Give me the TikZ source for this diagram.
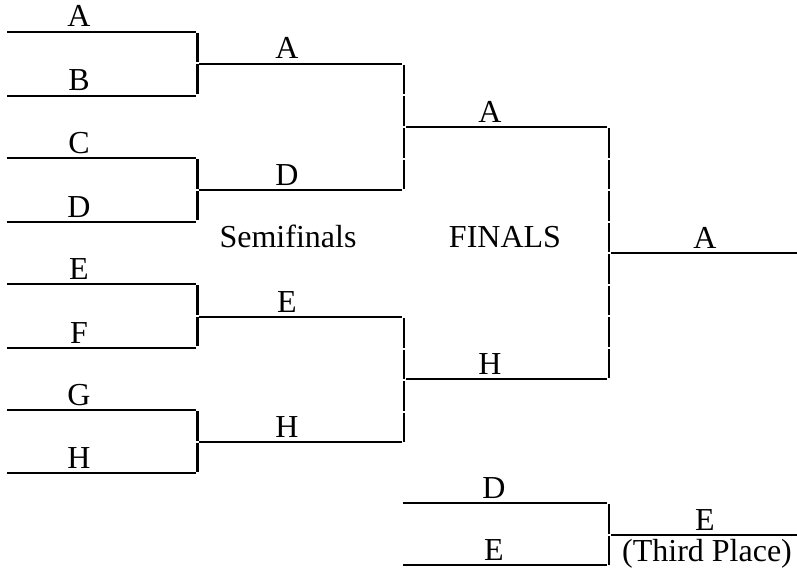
\documentclass[tikz,border=0pt]{standalone}
\usepackage{fontspec}
\setmainfont{Liberation Serif}
\begin{document}
\begin{tikzpicture}[x=1pt,y=-1pt,
  hline/.style={line width=2.5pt},
  vline/.style={line width=2.5pt, dash pattern=on 29.5pt off 2pt, dash phase=30.5pt},
  lbl/.style={anchor=base, font=\fontsize{32}{36}\selectfont, inner sep=0pt}]
\useasboundingbox (0,0) rectangle (797,567);
% round 1
\foreach \y/\n/\t in {32/r1a/A,96/r1b/B,158/r1c/C,222/r1d/D,284/r1e/E,348/r1f/F,410/r1g/G,473/r1h/H}{
  \coordinate (\n-l) at (7,\y);
  \coordinate (\n-r) at (196,\y);
  \draw[hline] (\n-l) -- (\n-r);
  \node[lbl] (\n-t) at (79,\y-5) {\t};
}
\coordinate (v1a-t) at (197.5,32);  \coordinate (v1a-b) at (197.5,96);
\coordinate (v1b-t) at (197.5,158); \coordinate (v1b-b) at (197.5,222);
\coordinate (v1c-t) at (197.5,284); \coordinate (v1c-b) at (197.5,348);
\coordinate (v1d-t) at (197.5,410); \coordinate (v1d-b) at (197.5,473);
\foreach \v in {v1a,v1b,v1c,v1d}{\draw[vline] (\v-t) -- (\v-b);}
% round 2
\foreach \y/\n/\t in {64/r2a/A,190/r2b/D,317/r2c/E,442/r2d/H}{
  \coordinate (\n-l) at (199,\y);
  \coordinate (\n-r) at (402,\y);
  \draw[hline] (\n-l) -- (\n-r);
  \node[lbl] (\n-t) at (287,\y-5) {\t};
}
\coordinate (v2a-t) at (404,64);  \coordinate (v2a-b) at (404,190);
\coordinate (v2b-t) at (404,317); \coordinate (v2b-b) at (404,442);
\foreach \v in {v2a,v2b}{\draw[vline] (\v-t) -- (\v-b);}
% round 3
\foreach \y/\n/\t in {127/r3a/A,379/r3b/H}{
  \coordinate (\n-l) at (406,\y);
  \coordinate (\n-r) at (607,\y);
  \draw[hline] (\n-l) -- (\n-r);
  \node[lbl] (\n-t) at (490,\y-5) {\t};
}
\coordinate (v3-t) at (609,127); \coordinate (v3-b) at (609,379);
\draw[vline] (v3-t) -- (v3-b);
% champion
\coordinate (fin-l) at (611,253); \coordinate (fin-r) at (797,253);
\draw[hline] (fin-l) -- (fin-r);
\node[lbl] (fin-t) at (705,248) {A};
% headings
\node[lbl] (semi) at (288,247) {Semifinals};
\node[lbl] (finals) at (505,247) {FINALS};
% third place match
\foreach \y/\n/\t in {503/tpa/D,565/tpb/E}{
  \coordinate (\n-l) at (403,\y);
  \coordinate (\n-r) at (607,\y);
  \draw[hline] (\n-l) -- (\n-r);
  \node[lbl] (\n-t) at (494,\y-5) {\t};
}
\coordinate (v4-t) at (609,503); \coordinate (v4-b) at (609,565);
\draw[vline] (v4-t) -- (v4-b);
\coordinate (tp-l) at (611,535); \coordinate (tp-r) at (797,535);
\draw[hline] (tp-l) -- (tp-r);
\node[lbl] (tp-t) at (705,530) {E};
\node[lbl] (tp-s) at (707,561) {(Third Place)};
\end{tikzpicture}
\end{document}
